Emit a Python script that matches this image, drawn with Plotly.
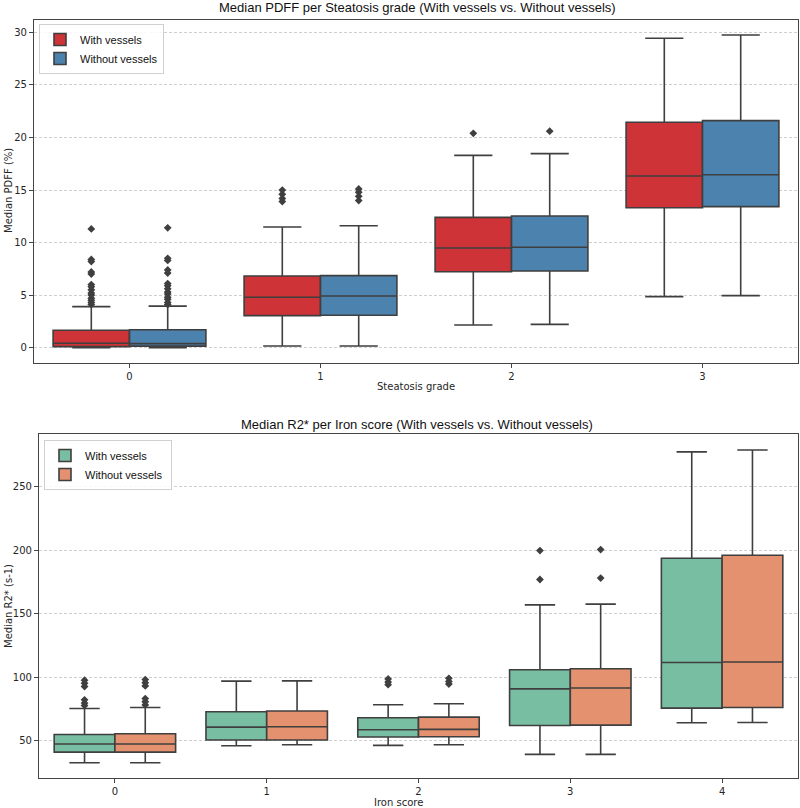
import plotly.graph_objects as go

# ---------------- data: PDFF per steatosis grade ----------------
steatosis_grades = [0, 1, 2, 3]
pdff_with_q1 = [0.10, 3.05, 7.23, 13.32]
pdff_with_med = [0.42, 4.79, 9.49, 16.34]
pdff_with_q3 = [1.65, 6.82, 12.40, 21.45]
pdff_with_lo = [0.0, 0.16, 2.16, 4.86]
pdff_with_hi = [3.90, 11.48, 18.30, 29.45]
pdff_with_out = [[4.1, 4.3, 4.5, 4.7, 5.0, 5.2, 5.5, 5.8, 6.0, 7.0, 7.2, 8.2, 8.4, 11.3],
                 [13.9, 14.2, 14.6, 15.0], [20.4], []]

pdff_wo_q1 = [0.15, 3.08, 7.30, 13.42]
pdff_wo_med = [0.38, 4.92, 9.55, 16.46]
pdff_wo_q3 = [1.70, 6.85, 12.53, 21.60]
pdff_wo_lo = [0.0, 0.16, 2.22, 4.95]
pdff_wo_hi = [3.95, 11.60, 18.46, 29.75]
pdff_wo_out = [[4.1, 4.3, 4.6, 4.8, 5.1, 5.3, 5.6, 5.9, 6.1, 7.1, 7.4, 8.3, 8.5, 11.4],
               [14.0, 14.4, 14.8, 15.1], [20.6], []]

# ---------------- data: R2* per iron score ----------------
iron_scores = [0, 1, 2, 3, 4]
r2_with_q1 = [40.8, 50.3, 52.7, 61.8, 75.5]
r2_with_med = [47.2, 60.5, 58.4, 90.7, 111.5]
r2_with_q3 = [54.7, 72.6, 67.9, 105.7, 193.7]
r2_with_lo = [32.4, 45.8, 46.1, 39.0, 63.9]
r2_with_hi = [75.2, 96.8, 78.1, 156.9, 277.5]
r2_with_out = [[77.5, 79.5, 82.0, 92.5, 95.0, 97.5], [], [94.0, 96.0, 98.5], [176.9, 199.7], []]

r2_wo_q1 = [40.8, 50.3, 52.9, 62.1, 76.0]
r2_wo_med = [47.2, 60.8, 58.7, 91.3, 111.8]
r2_wo_q3 = [55.3, 73.2, 68.4, 106.5, 196.0]
r2_wo_lo = [32.4, 46.6, 46.6, 39.0, 64.2]
r2_wo_hi = [76.0, 97.0, 78.9, 157.5, 279.0]
r2_wo_out = [[78.0, 80.5, 83.0, 93.0, 95.5, 98.0], [], [94.5, 96.5, 99.0], [178.0, 200.5], []]

pdff_ticks = [0, 5, 10, 15, 20, 25, 30]
r2_ticks = [50, 100, 150, 200, 250]

series_names = ["With vessels", "Without vessels"]

# ---------------- style ----------------
RED = "#cd3337"
BLUE = "#4c82ae"
GREEN = "#78bea2"
ORANGE = "#e3916f"
EDGE = "#3f3f3f"
TICKFONT = dict(family="DejaVu Sans", size=10, color="#262626")
LABFONT = dict(family="DejaVu Sans", size=10, color="#262626")
TITLEFONT = dict(family="Liberation Sans, Arial", size=13, color="#111111")
LEGFONT = dict(family="Liberation Sans, Arial", size=11, color="#111111")

BOXGAP = 0.2
n_groups = 2
offsets = [(-0.5 + (i + 0.5) / n_groups) * (1 - BOXGAP) for i in range(n_groups)]

fig = go.Figure()


def add_boxes(cats, stats, color, name, xa, ya, legend, offset):
    q1, med, q3, lo, hi, outs = stats
    fig.add_trace(go.Box(
        x=cats, q1=q1, median=med, q3=q3, lowerfence=lo, upperfence=hi,
        name=name, fillcolor=color, line=dict(color=EDGE, width=1.6),
        boxpoints=False, whiskerwidth=0.5, xaxis=xa, yaxis=ya, legend=legend,
        offsetgroup=name, hoverinfo="skip"))
    ox, oy = [], []
    for c, vals in zip(cats, outs):
        for v in vals:
            ox.append(c + offset)
            oy.append(v)
    fig.add_trace(go.Scatter(
        x=ox, y=oy, mode="markers", showlegend=False, xaxis=xa, yaxis=ya,
        marker=dict(symbol="diamond", size=6, color=EDGE, line=dict(width=0)),
        hoverinfo="skip"))


add_boxes(steatosis_grades, (pdff_with_q1, pdff_with_med, pdff_with_q3, pdff_with_lo, pdff_with_hi, pdff_with_out),
          RED, series_names[0], "x", "y", "legend", offsets[0])
add_boxes(steatosis_grades, (pdff_wo_q1, pdff_wo_med, pdff_wo_q3, pdff_wo_lo, pdff_wo_hi, pdff_wo_out),
          BLUE, series_names[1], "x", "y", "legend", offsets[1])
add_boxes(iron_scores, (r2_with_q1, r2_with_med, r2_with_q3, r2_with_lo, r2_with_hi, r2_with_out),
          GREEN, series_names[0] + " ", "x2", "y2", "legend2", offsets[0])
add_boxes(iron_scores, (r2_wo_q1, r2_wo_med, r2_wo_q3, r2_wo_lo, r2_wo_hi, r2_wo_out),
          ORANGE, series_names[1] + " ", "x2", "y2", "legend2", offsets[1])

W, H = 800, 808


def px_x(p):
    return p / W


def px_y(p):
    return 1 - p / H


axis_common = dict(showline=True, linecolor="#444444", linewidth=1.2, mirror=True,
                   ticks="outside", ticklen=4, tickcolor="#444444", tickwidth=1,
                   tickfont=TICKFONT, zeroline=False)
grid_common = dict(showgrid=True, gridcolor="#cfcfcf", griddash="3px,2px", gridwidth=0.8)

fig.update_layout(
    width=W, height=H, margin=dict(l=0, r=0, t=0, b=0),
    paper_bgcolor="white", plot_bgcolor="white",
    boxmode="group", boxgap=BOXGAP, boxgroupgap=0,
    xaxis=dict(domain=[px_x(34), px_x(798)], range=[-0.5, 3.5], tickvals=steatosis_grades,
               showgrid=False, anchor="y", **axis_common),
    yaxis=dict(domain=[px_y(363), px_y(20)], range=[-1.46, 31.18], tickvals=pdff_ticks,
               anchor="x", **grid_common, **axis_common),
    xaxis2=dict(domain=[px_x(39), px_x(798)], range=[-0.5, 4.5], tickvals=iron_scores,
                showgrid=False, anchor="y2", **axis_common),
    yaxis2=dict(domain=[px_y(778), px_y(434)], range=[20.4, 291.6], tickvals=r2_ticks,
                anchor="x2", **grid_common, **axis_common),
    legend=dict(x=px_x(39), y=px_y(24), xanchor="left", yanchor="top",
                bgcolor="rgba(255,255,255,0.85)", bordercolor="#d0d0d0", borderwidth=1,
                font=LEGFONT, tracegroupgap=0, itemwidth=30),
    legend2=dict(x=px_x(44), y=px_y(440), xanchor="left", yanchor="top",
                 bgcolor="rgba(255,255,255,0.85)", bordercolor="#d0d0d0", borderwidth=1,
                 font=LEGFONT, tracegroupgap=0, itemwidth=30),
    showlegend=True,
)

annots = [
    dict(text="Median PDFF per Steatosis grade (With vessels vs. Without vessels)",
         x=px_x(417), y=px_y(7), font=TITLEFONT),
    dict(text="Median R2* per Iron score (With vessels vs. Without vessels)",
         x=px_x(417), y=px_y(424), font=TITLEFONT),
    dict(text="Steatosis grade", x=px_x(416), y=px_y(386), font=LABFONT),
    dict(text="Iron score", x=px_x(398), y=px_y(802), font=LABFONT),
    dict(text="Median PDFF (%)", x=px_x(8), y=px_y(191), font=LABFONT, textangle=-90),
    dict(text="Median R2* (s-1)", x=px_x(8), y=px_y(606), font=LABFONT, textangle=-90),
]
for a in annots:
    fig.add_annotation(xref="paper", yref="paper", showarrow=False,
                       xanchor="center", yanchor="middle", **a)

fig.write_html("out.html")
